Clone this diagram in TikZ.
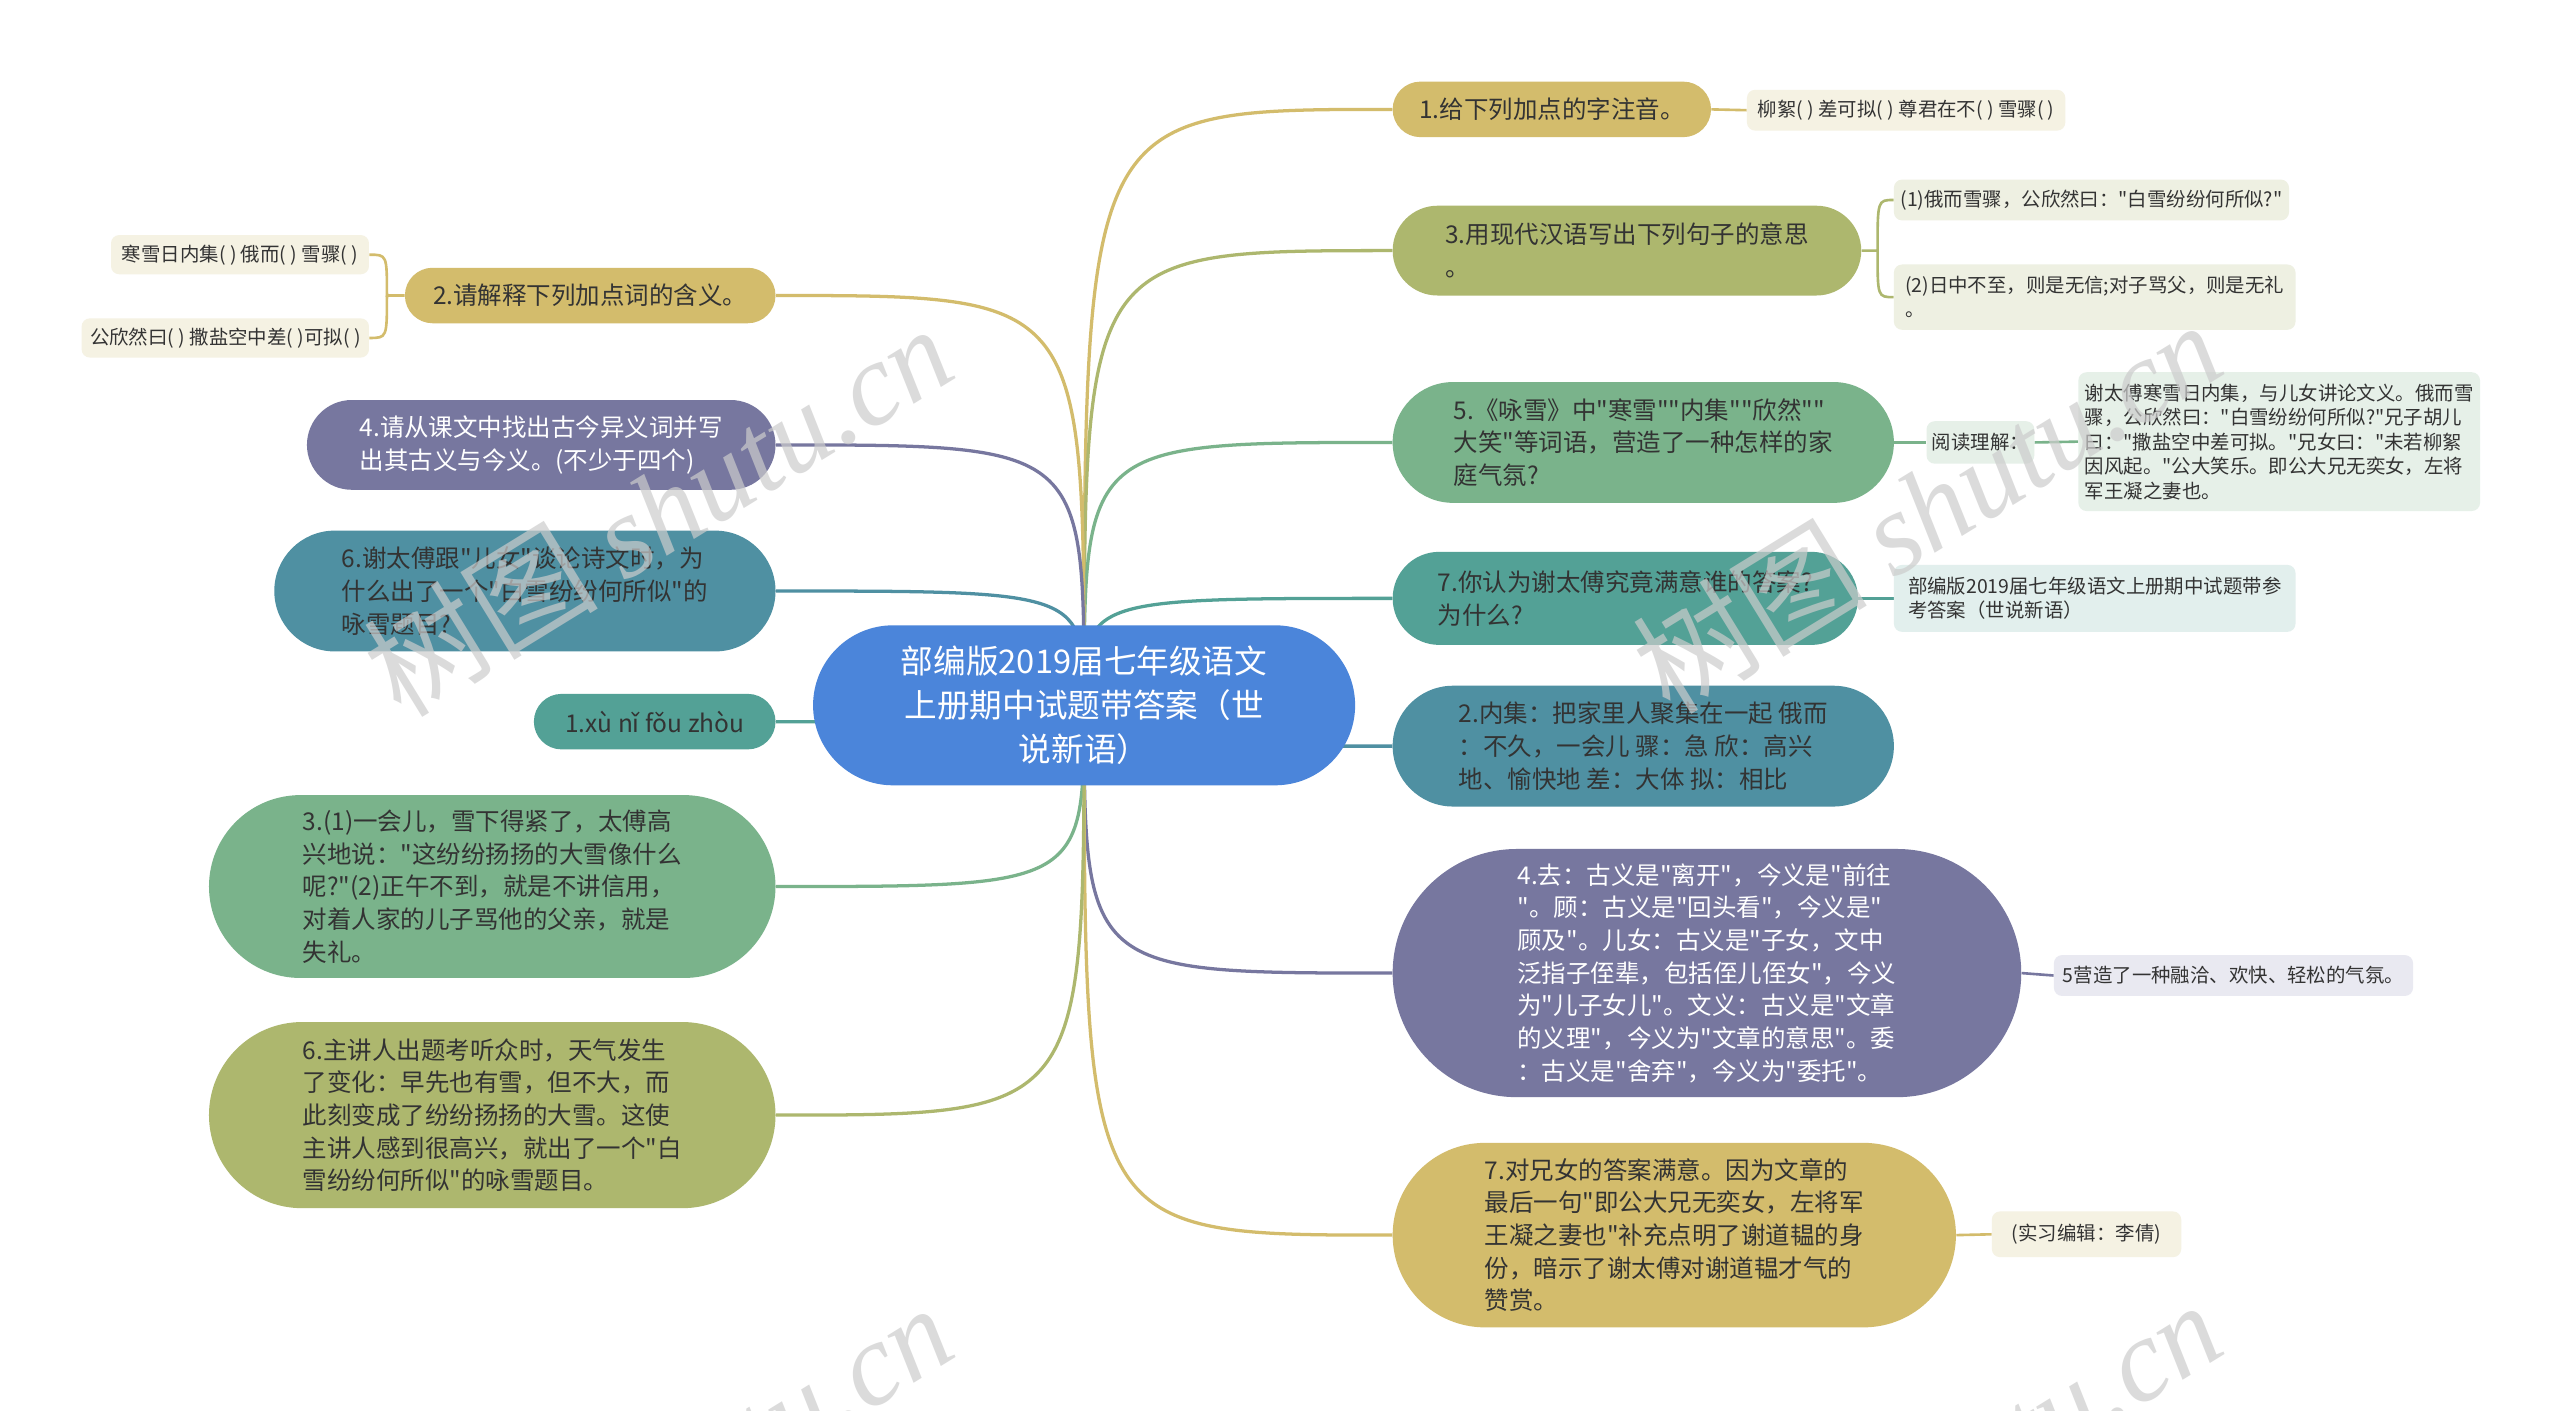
\documentclass[tikz,border=0pt]{standalone}
\usepackage{fontspec}
\setmainfont{Noto Sans CJK SC}[Ligatures=TeXOff]
\newfontfamily\wmlatin{Liberation Serif}
\usetikzlibrary{backgrounds}
\definecolor{cblue}{HTML}{4B85DA}
\definecolor{cgold}{HTML}{D3BC6C}
\definecolor{colive}{HTML}{ADB76E}
\definecolor{cgreen}{HTML}{7AB38B}
\definecolor{cteal}{HTML}{53A196}
\definecolor{cbteal}{HTML}{4F90A2}
\definecolor{cpurple}{HTML}{77779F}
\definecolor{fgold}{HTML}{F5F2E3}
\definecolor{folive}{HTML}{EEF0E2}
\definecolor{fgreen}{HTML}{E6F0E8}
\definecolor{fteal}{HTML}{E2EFED}
\definecolor{fpurple}{HTML}{E9E9F1}
\definecolor{txt}{HTML}{333333}
\definecolor{wm}{HTML}{CCCCCC}
\begin{document}
\begin{tikzpicture}[x=1pt,y=-1pt,
  mainbox/.style={inner sep=0pt, align=left, text=txt, font=\fontsize{15}{20}\selectfont},
  subbox/.style={inner sep=0pt, align=left, rounded corners=5pt, text=txt, font=\fontsize{11.9}{15}\selectfont},
  conn/.style={line width=2pt},
  subconn/.style={line width=1.6pt},
  wmark/.style={rotate=31.6, text=wm, opacity=0.7, font=\fontsize{72}{72}\selectfont}]
\useasboundingbox (0,0) rectangle (1568,864);
\clip (0,0) rectangle (1568,864);

% center
\node[fill=cblue, text=white, minimum width=332pt, minimum height=98pt, rounded corners=49pt, align=center, inner sep=0pt, font=\fontsize{20}{27}\selectfont] (c) at (664,432) {部编版2019届七年级语文\\上册期中试题带答案（世\\说新语）};

% right side
\node[mainbox, fill=cgold, minimum width=195pt, minimum height=34pt, rounded corners=17pt] (r1) at (950.5,67) {1.给下列加点的字注音。};
\node[subbox, fill=fgold, minimum width=195pt, minimum height=25pt] (r1a) at (1167.5,67.5) {柳絮( ) 差可拟( ) 尊君在不( ) 雪骤( )};

\node[mainbox, fill=colive, minimum width=287pt, minimum height=55pt, rounded corners=27.5pt] (r2) at (996.5,153.5) {3.用现代汉语写出下列句子的意思\\。};
\node[subbox, fill=folive, minimum width=242pt, minimum height=25pt] (r2a) at (1281,122.5) {(1)俄而雪骤，公欣然曰："白雪纷纷何所似?"};
\node[subbox, fill=folive, minimum width=246pt, minimum height=40pt] (r2b) at (1283,182) {(2)日中不至，则是无信;对子骂父，则是无礼\\。};

\node[mainbox, fill=cgreen, minimum width=307pt, minimum height=74pt, rounded corners=37pt] (r3) at (1006.5,271) {5.《咏雪》中"寒雪""内集""欣然""\\大笑"等词语，营造了一种怎样的家\\庭气氛?};
\node[subbox, fill=fgreen, minimum width=66pt, minimum height=26pt] (r3a) at (1213,271) {阅读理解：};
\node[subbox, fill=fgreen, minimum width=246pt, minimum height=85pt] (r3b) at (1396,270.5) {谢太傅寒雪日内集，与儿女讲论文义。俄而雪\\骤，公欣然曰："白雪纷纷何所似?"兄子胡儿\\曰："撒盐空中差可拟。"兄女曰："未若柳絮\\因风起。"公大笑乐。即公大兄无奕女，左将\\军王凝之妻也。};

\node[mainbox, fill=cteal, minimum width=285pt, minimum height=57pt, rounded corners=28.5pt] (r4) at (995.5,366.5) {7.你认为谢太傅究竟满意谁的答案?\\为什么?};
\node[subbox, fill=fteal, minimum width=246pt, minimum height=41pt] (r4a) at (1283,366.5) {部编版2019届七年级语文上册期中试题带参\\考答案（世说新语）};

\node[mainbox, fill=cbteal, minimum width=307pt, minimum height=74pt, rounded corners=37pt] (r5) at (1006.5,457) {2.内集：把家里人聚集在一起 俄而\\：不久，一会儿 骤：急 欣：高兴\\地、愉快地 差：大体 拟：相比};

\node[mainbox, fill=cpurple, text=white, minimum width=385pt, minimum height=152pt, rounded corners=76pt] (r6) at (1045.5,596) {4.去：古义是"离开"，今义是"前往\\"。顾：古义是"回头看"，今义是"\\顾及"。儿女：古义是"子女，文中\\泛指子侄辈，包括侄儿侄女"，今义\\为"儿子女儿"。文义：古义是"文章\\的义理"，今义为"文章的意思"。委\\：古义是"舍弃"，今义为"委托"。};
\node[subbox, fill=fpurple, minimum width=220pt, minimum height=25pt] (r6a) at (1368,597.5) {5营造了一种融洽、欢快、轻松的气氛。};

\node[mainbox, fill=cgold, minimum width=345pt, minimum height=113pt, rounded corners=56.5pt] (r7) at (1025.5,756.5) {7.对兄女的答案满意。因为文章的\\最后一句"即公大兄无奕女，左将军\\王凝之妻也"补充点明了谢道韫的身\\份，暗示了谢太傅对谢道韫才气的\\赞赏。};
\node[subbox, fill=fgold, minimum width=116pt, minimum height=28pt] (r7a) at (1278,756) {(实习编辑：李倩)};

% left side
\node[mainbox, fill=cgold, minimum width=227pt, minimum height=34pt, rounded corners=17pt] (l1) at (361.5,181) {2.请解释下列加点词的含义。};
\node[subbox, fill=fgold, minimum width=158pt, minimum height=24pt] (l1a) at (147,156) {寒雪日内集( ) 俄而( ) 雪骤( )};
\node[subbox, fill=fgold, minimum width=176pt, minimum height=24pt] (l1b) at (138,207) {公欣然曰( ) 撒盐空中差( )可拟( )};

\node[mainbox, fill=cpurple, text=white, minimum width=287pt, minimum height=55pt, rounded corners=27.5pt] (l2) at (331.5,272.5) {4.请从课文中找出古今异义词并写\\出其古义与今义。(不少于四个)};

\node[mainbox, fill=cbteal, minimum width=307pt, minimum height=74pt, rounded corners=37pt] (l3) at (321.5,362) {6.谢太傅跟"儿女"谈论诗文时，为\\什么出了一个"白雪纷纷何所似"的\\咏雪题目?};

\node[mainbox, fill=cteal, minimum width=148pt, minimum height=34pt, rounded corners=17pt] (l4) at (401,442) {1.xù nǐ fǒu zhòu};

\node[mainbox, fill=cgreen, minimum width=347pt, minimum height=112pt, rounded corners=56pt] (l5) at (301.5,543) {3.(1)一会儿，雪下得紧了，太傅高\\兴地说："这纷纷扬扬的大雪像什么\\呢?"(2)正午不到，就是不讲信用，\\对着人家的儿子骂他的父亲，就是\\失礼。};

\node[mainbox, fill=colive, minimum width=347pt, minimum height=114pt, rounded corners=57pt] (l6) at (301.5,683) {6.主讲人出题考听众时，天气发生\\了变化：早先也有雪，但不大，而\\此刻变成了纷纷扬扬的大雪。这使\\主讲人感到很高兴，就出了一个"白\\雪纷纷何所似"的咏雪题目。};

\coordinate (r2k) at (1150,153.5);
\coordinate (l1k) at (237,181);

\begin{scope}[on background layer]
\fill[white] (0,0) rectangle (1568,864);
\draw[conn, cgold]   (c.center) .. controls (c.center |- r1.west) .. (r1.west);
\draw[conn, colive]  (c.center) .. controls (c.center |- r2.west) .. (r2.west);
\draw[conn, cgreen]  (c.center) .. controls (c.center |- r3.west) .. (r3.west);
\draw[conn, cteal]   (c.center) .. controls (c.center |- r4.west) .. (r4.west);
\draw[conn, cbteal]  (c.center) .. controls (c.center |- r5.west) .. (r5.west);
\draw[conn, cpurple] (c.center) .. controls (c.center |- r6.west) .. (r6.west);
\draw[conn, cgold]   (c.center) .. controls (c.center |- r7.west) .. (r7.west);
\draw[conn, cgold]   (c.center) .. controls (c.center |- l1.east) .. (l1.east);
\draw[conn, cpurple] (c.center) .. controls (c.center |- l2.east) .. (l2.east);
\draw[conn, cbteal]  (c.center) .. controls (c.center |- l3.east) .. (l3.east);
\draw[conn, cteal]   (c.center) .. controls (c.center |- l4.east) .. (l4.east);
\draw[conn, cgreen]  (c.center) .. controls (c.center |- l5.east) .. (l5.east);
\draw[conn, colive]  (c.center) .. controls (c.center |- l6.east) .. (l6.east);
% children
\draw[subconn, cgold] (r1.east) -- (r1a.west);
\draw[subconn, colive] (r2.east) -- (r2k) .. controls (r2k |- r2a.west) .. (r2a.west);
\draw[subconn, colive] (r2k) .. controls (r2k |- r2b.west) .. (r2b.west);
\draw[subconn, cgreen] (r3.east) -- (r3a.west);
\draw[subconn, cgreen] (r3a.east) -- (r3b.west);
\draw[subconn, cteal] (r4.east) -- (r4a.west);
\draw[subconn, cpurple] (r6.east) -- (r6a.west);
\draw[subconn, cgold] (r7.east) -- (r7a.west);
\draw[subconn, cgold] (l1.west) -- (l1k) .. controls (l1k |- l1a.east) .. (l1a.east);
\draw[subconn, cgold] (l1k) .. controls (l1k |- l1b.east) .. (l1b.east);
\end{scope}

% watermarks
\node[wmark] (wm1) at (403,312) {树图 {\wmlatin\itshape shutu.cn}};
\node[wmark] (wm2) at (1180,310) {树图 {\wmlatin\itshape shutu.cn}};
\node[wmark] (wm3) at (403,912) {树图 {\wmlatin\itshape shutu.cn}};
\node[wmark] (wm4) at (1180,910) {树图 {\wmlatin\itshape shutu.cn}};
\end{tikzpicture}
\end{document}
